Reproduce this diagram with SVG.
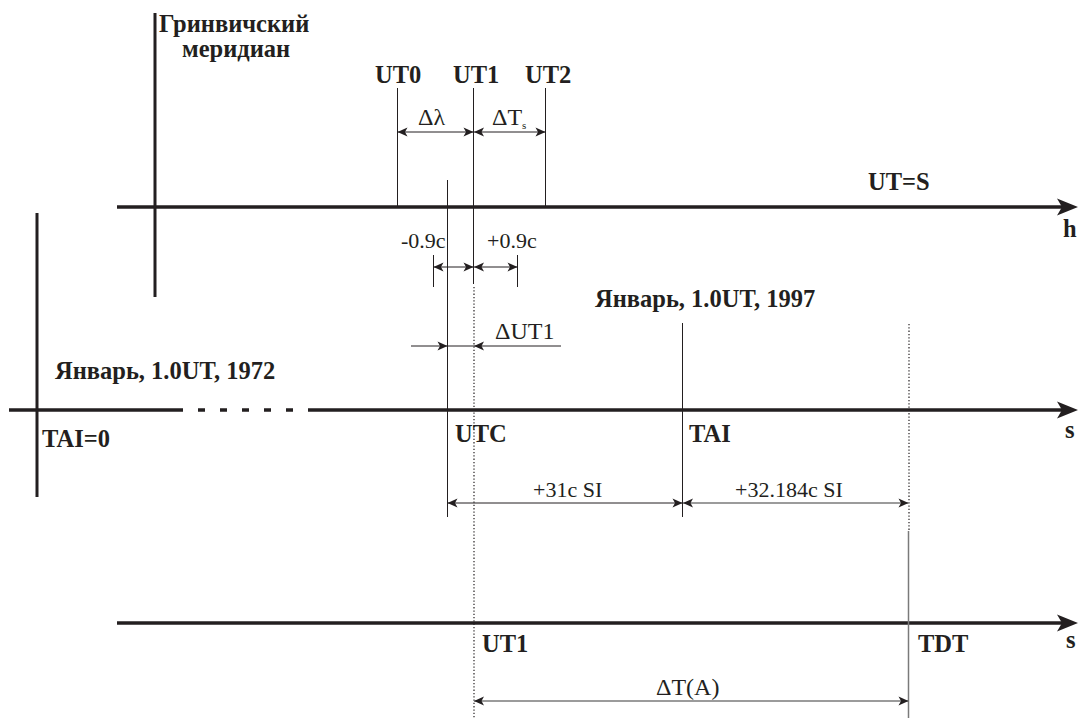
<svg xmlns="http://www.w3.org/2000/svg" width="1081" height="720" viewBox="0 0 1081 720">
<style>
  .b { font-family: "Liberation Serif", "Times New Roman", serif; font-weight: bold; font-size: 24.5px; fill: #231f20; }
  .r { font-family: "Liberation Serif", "Times New Roman", serif; font-size: 22px; fill: #231f20; }
  .g { font-family: "Liberation Serif", "Times New Roman", serif; font-size: 24px; fill: #231f20; }
  .sub { font-size: 11px; }
  .axis { stroke: #231f20; stroke-width: 3.5; fill: none; }
  .thick { stroke: #231f20; stroke-width: 3; fill: none; }
  .thin { stroke: #231f20; stroke-width: 1; fill: none; }
  .gray { stroke: #7a7a7a; stroke-width: 1.5; fill: none; }
  .dot { stroke: #231f20; stroke-width: 1.2; stroke-dasharray: 1.3 2; fill: none; }
  .dim { stroke: #231f20; stroke-width: 1; fill: none; marker-start: url(#ah); marker-end: url(#ah); }
  .dimg { stroke: #7a7a7a; stroke-width: 1.3; fill: none; marker-start: url(#ah); marker-end: url(#ah); }
  .dim1 { stroke: #231f20; stroke-width: 1; fill: none; marker-end: url(#ah); }
</style>
<defs>
  <marker id="ah" viewBox="-11 -5 12 10" refX="0" refY="0" markerWidth="12" markerHeight="10" markerUnits="userSpaceOnUse" orient="auto-start-reverse">
    <path d="M0,0 L-10,-4.5 L-7.5,0 L-10,4.5 Z" fill="#231f20"/>
  </marker>
  <marker id="axh" viewBox="-22 -10 23 20" refX="-16" refY="0" markerWidth="23" markerHeight="20" markerUnits="userSpaceOnUse" orient="auto">
    <path d="M0,0 L-21,-8.5 L-16,0 L-21,8.5 Z" fill="#231f20"/>
  </marker>
</defs>
<rect width="1081" height="720" fill="#ffffff"/>

<g id="axis-ut">
  <path class="axis" d="M117,207 H1062" marker-end="url(#axh)"/>
  <text class="b" x="868" y="190">UT=S</text>
  <text class="b" x="1063" y="237">h</text>
</g>
<g id="axis-tai">
  <path class="axis" d="M9,410 H183 M308,410 H1062" marker-end="url(#axh)"/>
  <path class="axis" d="M198,410 H294" stroke-dasharray="7 15"/>
  <text class="b" x="1065" y="438">s</text>
</g>
<g id="axis-tdt">
  <path class="axis" d="M117,623 H1062" marker-end="url(#axh)"/>
  <text class="b" x="1066" y="648">s</text>
</g>

<g id="greenwich">
  <path class="thick" d="M155,13 V297"/>
  <text class="b" x="159" y="32">Гринвичский</text>
  <text class="b" x="182" y="57">меридиан</text>
</g>
<g id="epoch-1972">
  <path class="thick" d="M37,213 V497"/>
  <text class="b" x="55" y="379">Январь, 1.0UT, 1972</text>
  <text class="b" x="42" y="447">TAI=0</text>
</g>
<g id="ut0">
  <path class="thin" d="M397.5,88 V207"/>
  <text class="b" x="375" y="83">UT0</text>
</g>
<g id="ut1">
  <path class="thin" d="M473.5,88 V284"/>
  <path class="dot" d="M474,287 V718"/>
  <text class="b" x="453" y="83">UT1</text>
  <text class="b" x="482" y="652">UT1</text>
</g>
<g id="ut2">
  <path class="thin" d="M545.5,88 V207"/>
  <text class="b" x="525" y="83">UT2</text>
</g>
<g id="utc">
  <path class="thin" d="M447.5,180 V517"/>
  <path class="thin" d="M433.5,255 V287 M517.5,255 V287"/>
  <text class="b" x="455" y="442">UTC</text>
</g>
<g id="tai-1997">
  <path class="thin" d="M682.5,323 V517"/>
  <text class="b" x="595" y="307">Январь, 1.0UT, 1997</text>
  <text class="b" x="689" y="442">TAI</text>
</g>
<g id="tdt">
  <path class="dot" d="M909,324 V530"/>
  <path class="gray" d="M908.5,531 V718"/>
  <text class="b" x="918" y="652">TDT</text>
</g>

<g id="connectors">
  <path class="dim" d="M397.5,132 H473.5"/>
  <path class="dim" d="M474,132 H545.5"/>
  <path class="dim" d="M433.5,267 H473.5"/>
  <path class="dim" d="M474,267 H517.5"/>
  <path class="dim1" d="M411,346 H447.5"/>
  <path class="dim1" d="M561,346 H474"/>
  <path class="thin" d="M447,346 H474"/>
  <path class="dim" d="M447.5,503 H682.5"/>
  <path class="dimg" d="M683,503 H908.5"/>
  <path class="dimg" d="M474,701 H908.5"/>
</g>
<g id="dim-labels">
  <text class="g" x="418" y="125">Δλ</text>
  <text class="g" x="492" y="125">ΔT<tspan class="sub" dy="4">s</tspan></text>
  <text class="r" x="401" y="248">-0.9c</text>
  <text class="r" x="487" y="248">+0.9c</text>
  <text class="g" x="495" y="339">ΔUT1</text>
  <text class="r" x="533" y="497">+31c SI</text>
  <text class="r" x="735" y="497">+32.184c SI</text>
  <text class="g" x="656" y="695">ΔT(A)</text>
</g>
</svg>
